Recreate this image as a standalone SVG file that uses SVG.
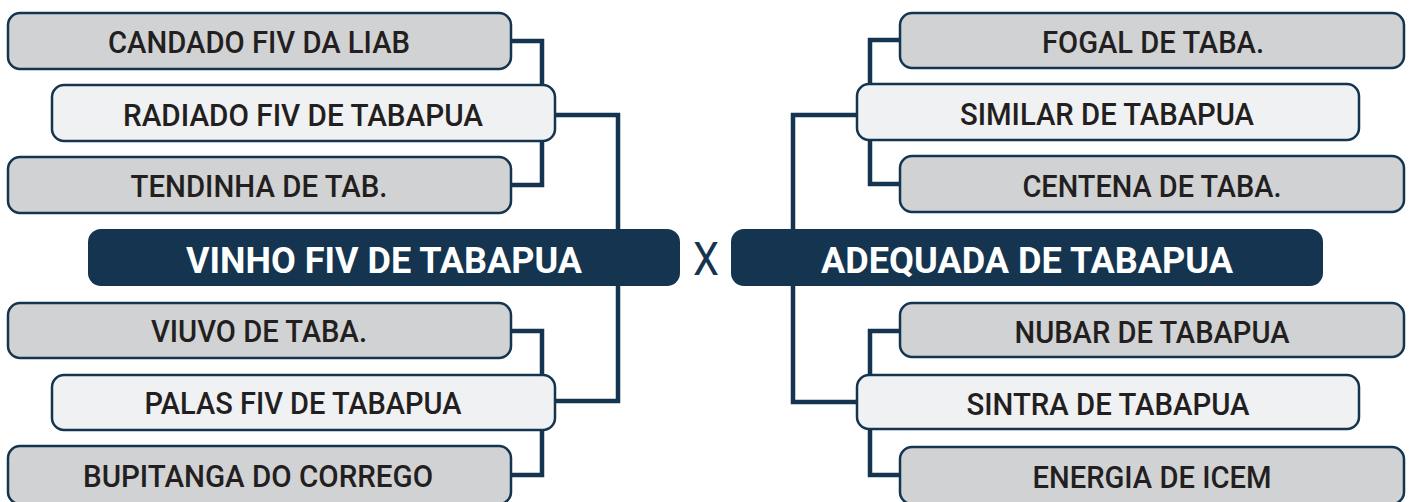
<svg xmlns="http://www.w3.org/2000/svg" width="1412" height="502" viewBox="0 0 1412 502">
<style>
.bg{fill:#ffffff}
.g{fill:#d1d2d4;stroke:#14344f;stroke-width:2.5}
.l{fill:#f0f1f3;stroke:#14344f;stroke-width:2.5}
.t{fill:#14344f}
.c{fill:none;stroke:#14344f;stroke-width:4.5;stroke-linejoin:miter}
.lb{font-family:Roboto,"Liberation Sans",Arial,sans-serif;font-size:31px;font-weight:500;fill:#231f20;text-anchor:middle}
.tt{font-family:Roboto,"Liberation Sans",Arial,sans-serif;font-size:37px;font-weight:bold;fill:#ffffff;text-anchor:middle}
.x{font-family:Roboto,"Liberation Sans",Arial,sans-serif;font-size:46px;font-weight:400;fill:#14344f;text-anchor:middle}
</style>
<rect class="bg" x="0" y="0" width="1412" height="502"/>
<g id="connectors">
<path class="c" d="M511,41 H542 V185 H511"/>
<path class="c" d="M555,115 H618 V229"/>
<path class="c" d="M511,331 H542 V475 H511"/>
<path class="c" d="M555,401 H618 V286"/>
<path class="c" d="M900,40 H870 V184 H900"/>
<path class="c" d="M857,115 H793 V229"/>
<path class="c" d="M900,331 H870 V475 H900"/>
<path class="c" d="M857,402 H793 V286"/>
</g>
<g id="candado"><rect class="g" x="8" y="13" width="503" height="56" rx="12"/><text class="lb" x="259" y="53" textLength="302" lengthAdjust="spacingAndGlyphs">CANDADO FIV DA LIAB</text></g>
<g id="radiado"><rect class="l" x="52" y="85" width="503" height="56" rx="12"/><text class="lb" x="303" y="126" textLength="360" lengthAdjust="spacingAndGlyphs">RADIADO FIV DE TABAPUA</text></g>
<g id="tendinha"><rect class="g" x="8" y="157" width="503" height="56" rx="12"/><text class="lb" x="259" y="197" textLength="257" lengthAdjust="spacingAndGlyphs">TENDINHA DE TAB.</text></g>
<g id="vinho"><rect class="t" x="88" y="229" width="592" height="57" rx="13"/><text class="tt" x="384" y="273" textLength="396" lengthAdjust="spacingAndGlyphs">VINHO FIV DE TABAPUA</text></g>
<g id="viuvo"><rect class="g" x="8" y="303" width="503" height="55" rx="12"/><text class="lb" x="259" y="342" textLength="216" lengthAdjust="spacingAndGlyphs">VIUVO DE TABA.</text></g>
<g id="palas"><rect class="l" x="52" y="375" width="503" height="55" rx="12"/><text class="lb" x="303" y="414" textLength="317" lengthAdjust="spacingAndGlyphs">PALAS FIV DE TABAPUA</text></g>
<g id="bupitanga"><rect class="g" x="8" y="446" width="503" height="58" rx="12"/><text class="lb" x="258" y="487" textLength="350" lengthAdjust="spacingAndGlyphs">BUPITANGA DO CORREGO</text></g>
<g id="versus"><text class="x" x="706" y="275" textLength="26" lengthAdjust="spacingAndGlyphs">X</text></g>
<g id="fogal"><rect class="g" x="900" y="13" width="504" height="55" rx="12"/><text class="lb" x="1153" y="53" textLength="222" lengthAdjust="spacingAndGlyphs">FOGAL DE TABA.</text></g>
<g id="similar"><rect class="l" x="857" y="84" width="502" height="56" rx="12"/><text class="lb" x="1107" y="125" textLength="294" lengthAdjust="spacingAndGlyphs">SIMILAR DE TABAPUA</text></g>
<g id="centena"><rect class="g" x="900" y="156" width="504" height="56" rx="12"/><text class="lb" x="1152" y="197" textLength="259" lengthAdjust="spacingAndGlyphs">CENTENA DE TABA.</text></g>
<g id="adequada"><rect class="t" x="731" y="229" width="592" height="57" rx="13"/><text class="tt" x="1027" y="273" textLength="412" lengthAdjust="spacingAndGlyphs">ADEQUADA DE TABAPUA</text></g>
<g id="nubar"><rect class="g" x="900" y="303" width="504" height="54" rx="12"/><text class="lb" x="1152" y="343" textLength="275" lengthAdjust="spacingAndGlyphs">NUBAR DE TABAPUA</text></g>
<g id="sintra"><rect class="l" x="857" y="375" width="502" height="54" rx="12"/><text class="lb" x="1108" y="415" textLength="283" lengthAdjust="spacingAndGlyphs">SINTRA DE TABAPUA</text></g>
<g id="energia"><rect class="g" x="900" y="447" width="504" height="57" rx="12"/><text class="lb" x="1152" y="488" textLength="239" lengthAdjust="spacingAndGlyphs">ENERGIA DE ICEM</text></g>
</svg>
